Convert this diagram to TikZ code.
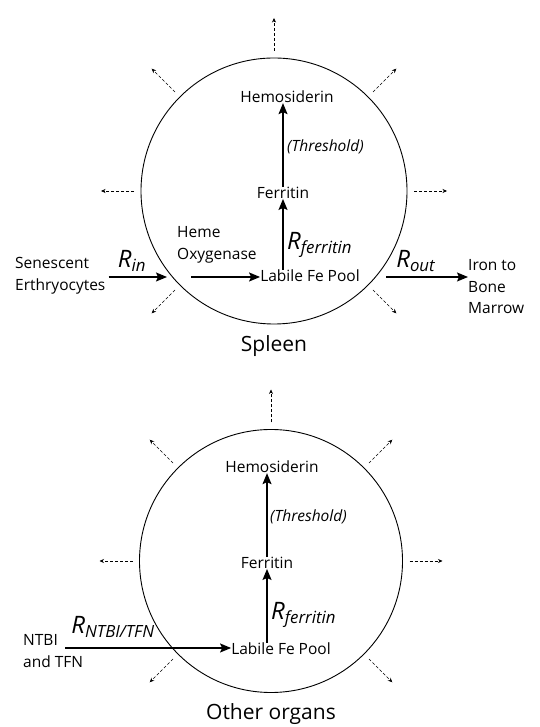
\documentclass[tikz,border=0pt]{standalone}
\usepackage{fontspec}
\setmainfont{Open Sans}
\usetikzlibrary{positioning,calc,arrows.meta}
\newcommand{\rate}[1]{\textit{R}\textsubscript{\textit{#1}}}
\begin{document}
\begin{tikzpicture}[
  x=1pt, y=1pt,
  organ/.style={draw, circle, line width=0.9pt, minimum size=266pt, inner sep=0pt, outer sep=0pt},
  txt/.style={font=\fontsize{15.5}{21.5}\selectfont, align=left, inner sep=0pt},
  ratelbl/.style={font=\fontsize{24}{26}\selectfont, inner sep=0pt},
  title/.style={font=\fontsize{21}{24}\selectfont, inner sep=0pt},
  flow/.style={-{Stealth[length=11pt,width=9pt,inset=2pt]}, line width=1.4pt},
  leak/.style={-{Stealth[length=4.5pt,width=4pt]}, densely dashed, line width=0.5pt}
]
\useasboundingbox (0,0) rectangle (539,727);

% spleen
\node[organ] (spleen) at (274,536) {};
\node[title, below=11pt of spleen] (spleenlbl) {Spleen};
\foreach \a in {0,45,90,135,180,225,315}
  \draw[leak] ($(spleen.\a)+(\a:7)$) -- ($(spleen.\a)+(\a:40)$);

\node[txt] (hemo) at (287,630) {Hemosiderin};
\node[txt] (ferr) at (283,534) {Ferritin};
\node[txt] (pool) at (310,451) {Labile Fe Pool};
\node[txt, anchor=west] (heme) at (177,482) {Heme\\Oxygenase};
\node[txt, anchor=west] (sen) at (15,451) {Senescent\\Erthryocytes};
\node[txt, anchor=west] (iron) at (468,440) {Iron to\\Bone\\Marrow};
\coordinate (inend) at (167,450);
\coordinate (hemestart) at (191,450);
\coordinate (outstart) at (386,450);

\draw[flow] (pool.north -| ferr.south) -- (ferr.south);
\draw[flow] (ferr.north) -- (ferr.north |- hemo.south);
\draw[flow] (sen.east |- inend) ++(3,0) -- (inend);
\draw[flow] (hemestart) -- (pool.west |- hemestart);
\draw[flow] (outstart) -- (iron.west |- outstart);
\node[ratelbl, anchor=west] (rferr) at (287,482) {\rate{ferritin}};
\node[txt, anchor=west, font=\fontsize{15.5}{18}\selectfont\itshape] (thr) at (287,580) {(Threshold)};
\node[ratelbl] (rin) at (132,466) {\rate{in}};
\node[ratelbl] (rout) at (416,466) {\rate{out}};

% other organs
\node[organ, minimum size=263pt] (organs) at (271,166) {};
\node[title, below=11pt of organs] (organslbl) {Other organs};
\foreach \a in {0,45,90,135,180,225,315}
  \draw[leak] ($(organs.\a)+(\a:7)$) -- ($(organs.\a)+(\a:40)$);

\node[txt] (hemo2) at (272,260) {Hemosiderin};
\node[txt] (ferr2) at (267,164) {Ferritin};
\node[txt] (pool2) at (281,78) {Labile Fe Pool};
\node[txt, anchor=west] (ntbi) at (23,76) {NTBI\\and TFN};
\coordinate (ntbistart) at (65,79);

\draw[flow] (pool2.north -| ferr2.south) -- (ferr2.south);
\draw[flow] (ferr2.north) -- (ferr2.north |- hemo2.south);
\draw[flow] (ntbistart) -- (pool2.west |- ntbistart);
\node[ratelbl, anchor=west] (rferr2) at (271,112) {\rate{ferritin}};
\node[txt, anchor=west, font=\fontsize{15.5}{18}\selectfont\itshape] (thr2) at (270,210) {(Threshold)};
\node[ratelbl] (rntbi) at (113,100) {\rate{NTBI/TFN}};
\end{tikzpicture}
\end{document}
